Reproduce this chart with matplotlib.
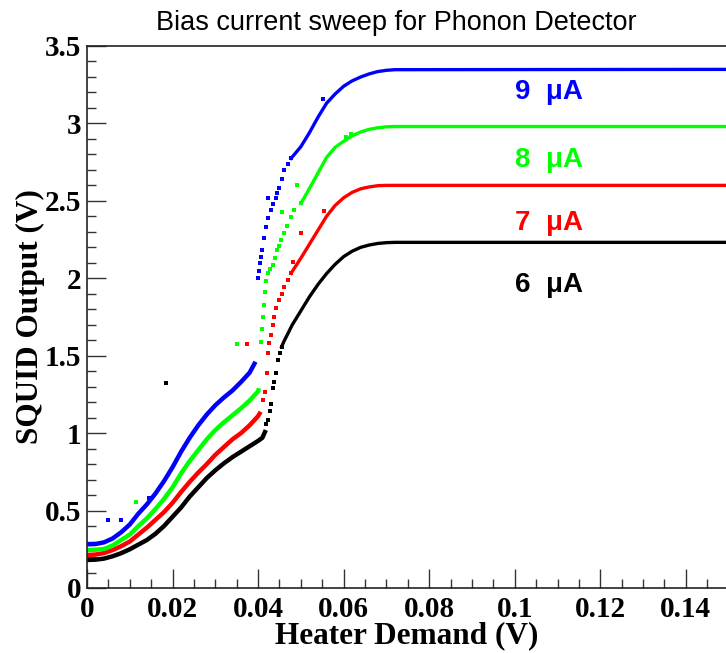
import matplotlib
matplotlib.use("Agg")
import matplotlib.pyplot as plt
from matplotlib.ticker import MultipleLocator, FuncFormatter

# ---------------- data ----------------
# 6 uA (black)
black_low_x = [0, 0.002, 0.004, 0.006, 0.008, 0.010, 0.012, 0.014, 0.016, 0.018, 0.020, 0.022, 0.024, 0.026, 0.028, 0.030, 0.032, 0.034, 0.036, 0.038, 0.040, 0.041, 0.0418]
black_low_y = [0.181, 0.183, 0.19, 0.205, 0.225, 0.25, 0.28, 0.31, 0.35, 0.40, 0.46, 0.52, 0.59, 0.65, 0.71, 0.76, 0.805, 0.845, 0.88, 0.915, 0.95, 0.97, 1.02]
black_rise_x = [0.0419, 0.0423, 0.0427, 0.0431, 0.0435, 0.0438, 0.0441, 0.0447, 0.0451, 0.0455]
black_rise_y = [1.06, 1.085, 1.14, 1.19, 1.29, 1.33, 1.386, 1.472, 1.52, 1.558]
black_top_x = [0.0455, 0.046, 0.048, 0.050, 0.052, 0.054, 0.056, 0.058, 0.060, 0.062, 0.064, 0.066, 0.068, 0.070, 0.072, 0.15]
black_top_y = [1.558, 1.59, 1.70, 1.79, 1.88, 1.96, 2.03, 2.09, 2.14, 2.175, 2.20, 2.215, 2.225, 2.23, 2.232, 2.232]
black_out_x = [0.0185]
black_out_y = [1.325]

# 7 uA (red)
red_low_x = [0, 0.002, 0.004, 0.006, 0.008, 0.010, 0.012, 0.014, 0.016, 0.018, 0.020, 0.022, 0.024, 0.026, 0.028, 0.030, 0.032, 0.034, 0.036, 0.038, 0.040, 0.0406]
red_low_y = [0.213, 0.216, 0.226, 0.245, 0.27, 0.30, 0.345, 0.39, 0.44, 0.49, 0.55, 0.62, 0.685, 0.745, 0.80, 0.86, 0.91, 0.96, 1.00, 1.05, 1.11, 1.138]
red_rise_x = [0.0412, 0.0415, 0.0420, 0.0422, 0.0426, 0.0430, 0.0434, 0.0437, 0.0443, 0.0449, 0.0455, 0.0461, 0.0469, 0.0477]
red_rise_y = [1.214, 1.267, 1.386, 1.515, 1.58, 1.633, 1.70, 1.751, 1.81, 1.859, 1.90, 1.945, 1.99, 2.032]
red_top_x = [0.0477, 0.048, 0.050, 0.052, 0.054, 0.056, 0.058, 0.060, 0.062, 0.064, 0.066, 0.068, 0.070, 0.072, 0.15]
red_top_y = [2.032, 2.045, 2.13, 2.22, 2.31, 2.40, 2.47, 2.52, 2.555, 2.578, 2.59, 2.598, 2.60, 2.60, 2.60]
red_out_x = [0.0375, 0.0481, 0.0500, 0.0555]
red_out_y = [1.575, 2.107, 2.294, 2.436]

# 8 uA (green)
green_low_x = [0, 0.002, 0.004, 0.006, 0.008, 0.010, 0.012, 0.014, 0.016, 0.018, 0.020, 0.022, 0.024, 0.026, 0.028, 0.030, 0.032, 0.034, 0.036, 0.038, 0.040, 0.0402]
green_low_y = [0.245, 0.247, 0.252, 0.275, 0.31, 0.345, 0.40, 0.45, 0.51, 0.575, 0.65, 0.74, 0.82, 0.89, 0.96, 1.02, 1.07, 1.115, 1.16, 1.21, 1.27, 1.29]
green_rise_x = [0.0406, 0.0409, 0.0412, 0.0414, 0.0415, 0.0419, 0.0422, 0.0428, 0.0434, 0.0440, 0.0445, 0.0449, 0.0453, 0.0461, 0.0467, 0.0477, 0.0485, 0.0500]
green_rise_y = [1.59, 1.67, 1.751, 1.83, 1.913, 1.98, 2.032, 2.06, 2.085, 2.13, 2.182, 2.21, 2.25, 2.29, 2.34, 2.397, 2.44, 2.483]
green_top_x = [0.050, 0.052, 0.054, 0.056, 0.058, 0.060, 0.062, 0.064, 0.066, 0.068, 0.070, 0.072, 0.15]
green_top_y = [2.483, 2.58, 2.68, 2.78, 2.845, 2.885, 2.92, 2.945, 2.962, 2.972, 2.978, 2.98, 2.98]
green_out_x = [0.0114, 0.0350, 0.0457, 0.0490, 0.0606, 0.0617]
green_out_y = [0.553, 1.575, 2.43, 2.60, 2.91, 2.93]

# 9 uA (blue)
blue_low_x = [0, 0.002, 0.004, 0.006, 0.008, 0.010, 0.012, 0.014, 0.016, 0.018, 0.020, 0.022, 0.024, 0.026, 0.028, 0.030, 0.032, 0.034, 0.036, 0.038, 0.0394]
blue_low_y = [0.282, 0.284, 0.295, 0.32, 0.36, 0.41, 0.48, 0.54, 0.61, 0.69, 0.78, 0.88, 0.97, 1.05, 1.12, 1.18, 1.23, 1.275, 1.33, 1.39, 1.461]
blue_rise_x = [0.0400, 0.0402, 0.0404, 0.0407, 0.0410, 0.0414, 0.0418, 0.0424, 0.0430, 0.0436, 0.0441, 0.0445, 0.0449, 0.0455, 0.0461, 0.0469, 0.0477]
blue_rise_y = [2.0, 2.05, 2.096, 2.14, 2.182, 2.26, 2.332, 2.39, 2.44, 2.48, 2.516, 2.55, 2.58, 2.64, 2.698, 2.74, 2.774]
blue_top_x = [0.0477, 0.050, 0.052, 0.054, 0.056, 0.058, 0.060, 0.062, 0.064, 0.066, 0.068, 0.070, 0.072, 0.15]
blue_top_y = [2.774, 2.85, 2.94, 3.04, 3.13, 3.19, 3.24, 3.275, 3.30, 3.32, 3.335, 3.343, 3.347, 3.349]
blue_out_x = [0.0049, 0.0079, 0.0144, 0.0422, 0.0551]
blue_out_y = [0.439, 0.439, 0.579, 2.516, 3.155]

labels = ["9  \u03bcA", "8  \u03bcA", "7  \u03bcA", "6  \u03bcA"]
label_y = [3.205, 2.763, 2.356, 1.956]
label_x = 0.1

title = "Bias current sweep for Phonon Detector"
xlabel = "Heater Demand (V)"
ylabel = "SQUID Output (V)"

# ---------------- figure ----------------
fig = plt.figure(figsize=(7.26, 6.53), dpi=100)
ax = fig.add_axes([87 / 726, 65 / 653, 641.6 / 726, 542 / 653])

series = [
    ("#000000", black_low_x, black_low_y, black_rise_x, black_rise_y, black_top_x, black_top_y, black_out_x, black_out_y),
    ("#ff0000", red_low_x, red_low_y, red_rise_x, red_rise_y, red_top_x, red_top_y, red_out_x, red_out_y),
    ("#00ff00", green_low_x, green_low_y, green_rise_x, green_rise_y, green_top_x, green_top_y, green_out_x, green_out_y),
    ("#0000ff", blue_low_x, blue_low_y, blue_rise_x, blue_rise_y, blue_top_x, blue_top_y, blue_out_x, blue_out_y),
]
ms = 2.4
for c, lx, ly, rx, ry, tx, ty, ox, oy in series:
    ax.plot(lx, ly, color=c, lw=3.2, solid_capstyle="butt", solid_joinstyle="round")
    ax.plot(rx, ry, color=c, marker="s", ms=ms, mec=c, mew=0, linestyle="none")
    ax.plot(tx, ty, color=c, lw=2.4, solid_joinstyle="round")
    ax.plot(ox, oy, color=c, marker="s", ms=ms, mew=0, linestyle="none")

label_colors = ["#0000ff", "#00ff00", "#ff0000", "#000000"]
for t, yv, c in zip(labels, label_y, label_colors):
    ax.text(label_x, yv, t, color=c, fontsize=20, fontweight="bold",
            family="Liberation Sans", ha="left", va="center")

ax.set_xlim(0, 0.15)
ax.set_ylim(0, 3.5)
ax.xaxis.set_major_locator(MultipleLocator(0.02))
ax.xaxis.set_minor_locator(MultipleLocator(0.005))
ax.yaxis.set_major_locator(MultipleLocator(0.5))
ax.yaxis.set_minor_locator(MultipleLocator(0.1))
ax.xaxis.set_major_formatter(FuncFormatter(lambda v, p: f"{v:.2f}".rstrip("0").rstrip(".")))
ax.yaxis.set_major_formatter(FuncFormatter(lambda v, p: f"{v:.1f}".rstrip("0").rstrip(".")))

ax.tick_params(axis="both", which="major", direction="in", length=13.5, width=1.0, color="#333333")
ax.tick_params(axis="both", which="minor", direction="in", length=6.5, width=1.0, color="#333333")
ax.tick_params(axis="x", which="major", pad=6)
ax.tick_params(axis="y", which="major", pad=4)
for lab in ax.get_xticklabels() + ax.get_yticklabels():
    lab.set_family("Liberation Serif")
    lab.set_fontweight("bold")
    lab.set_fontsize(21)

for s in ["left", "bottom", "top", "right"]:
    ax.spines[s].set_linewidth(1.2)
    ax.spines[s].set_color("#222222")

ax.set_xlabel(xlabel, family="Liberation Serif", fontweight="bold", fontsize=22.5)
ax.set_ylabel(ylabel, family="Liberation Serif", fontweight="bold", fontsize=22.5)
ax.xaxis.set_label_coords((407 - 87) / 641.6, -0.062)
ax.yaxis.set_label_coords(-0.066, 0.5)

fig.text(396 / 726, 630 / 653, title, family="Liberation Sans", fontsize=19.5, ha="center", va="center")

fig.savefig("out.png", dpi=100)
